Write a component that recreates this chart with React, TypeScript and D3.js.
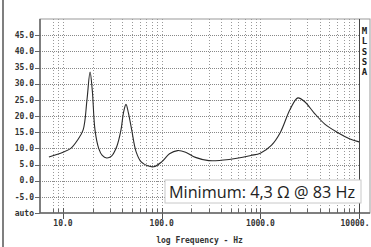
import React from "react";
import * as d3 from "d3";

const freqs = [7.2, 10, 12, 14, 16, 17.5, 18.8, 19.8, 21.1, 23, 25, 27.7, 31, 35, 38.7, 41, 43.5, 46, 49.7, 55, 62, 72, 83, 100, 120, 145, 175, 220, 300, 400, 600, 800, 1000, 1300, 1600, 2000, 2400, 2800, 3500, 4500, 6000, 8000, 10000];
const impedance = [7.3, 8.8, 10, 12.5, 15.7, 25, 33.6, 28, 15.7, 10, 7.8, 7.0, 7.6, 10.5, 15.7, 21, 23.6, 21, 15.7, 9, 5.8, 4.6, 4.3, 5.8, 8.3, 9.3, 8.8, 7.2, 6.2, 6.3, 7.0, 7.8, 8.5, 11, 15, 22, 25.6, 24.5, 21, 17.5, 15, 13, 12];
const yTicks = [45, 40, 35, 30, 25, 20, 15, 10, 5, 0, -5, -10];
const yTickLabels = ["45.0", "40.0", "35.0", "30.0", "25.0", "20.0", "15.0", "10.0", "5.0", "0.0", "-5.0", "auto"];
const xMajor = [10, 100, 1000, 10000];
const xMajorLabels = ["10.0", "100.0", "1000.0", "10000."];
const sideLetters = ["M", "L", "S", "S", "A"];
const annotation = "Minimum: 4,3 \u03A9 @ 83 Hz";
const xTitle = "log Frequency - Hz";

export default function App() {
  const W = 371, H = 247;
  const left = 40, right = 359, top = 19, bottom = 213;
  const decade = (right - 63) / 3;
  const fMin = Math.pow(10, 1 - (63 - left) / decade);
  const x = d3.scaleLog().domain([fMin, 10000]).range([left, right]);
  const y = d3.scaleLinear().domain([-10, 50]).range([bottom, top]);

  const minor: number[] = [];
  for (let e = 0; e <= 3; e++) {
    for (let m = 1; m <= 9; m++) {
      const f = m * Math.pow(10, e);
      if (f >= 8 && f <= 10000) minor.push(f);
    }
  }
  minor.push(10000);

  const line = d3
    .line<number>()
    .x((_, i) => x(freqs[i]))
    .y((d) => y(d))
    .curve(d3.curveCatmullRom.alpha(0.5));

  const mono = "'DejaVu Sans Mono', monospace";

  return (
    <svg width={W} height={H} style={{ position: "absolute", left: 0, top: 0, background: "#fff" }}>
      <rect x={0} y={0} width={W} height={H} fill="#fff" />
      <line x1={3} x2={3} y1={0} y2={H} stroke="#555" strokeWidth={1.5} />
      <rect x={left} y={top} width={370 - left} height={bottom - top} fill="none" stroke="#999" strokeWidth={1} />
      {minor.map((f, i) => (
        <line key={"vg" + i} x1={Math.round(x(f)) + 0.5} x2={Math.round(x(f)) + 0.5} y1={top} y2={bottom} stroke="#999" strokeWidth={1} strokeDasharray="1,2" />
      ))}
      {yTicks.filter((t) => t > -10).map((t, i) => (
        <line key={"hg" + i} x1={left} x2={right} y1={Math.round(y(t)) + 0.5} y2={Math.round(y(t)) + 0.5} stroke="#888" strokeWidth={1} strokeDasharray="1,1" />
      ))}
      {minor.map((f, i) => (
        <line key={"mt" + i} x1={Math.round(x(f)) + 0.5} x2={Math.round(x(f)) + 0.5} y1={bottom - 4} y2={bottom} stroke="#666" strokeWidth={1} />
      ))}
      {xMajor.map((f, i) => (
        <line key={"Mt" + i} x1={Math.round(x(f)) + 0.5} x2={Math.round(x(f)) + 0.5} y1={bottom - 5} y2={bottom + 6} stroke="#555" strokeWidth={1} />
      ))}
      {yTicks.map((t, i) => (
        <line key={"yt" + i} x1={left - 5} x2={left} y1={Math.round(y(t)) + 0.5} y2={Math.round(y(t)) + 0.5} stroke="#666" strokeWidth={1} />
      ))}
      <line x1={left} x2={left} y1={top} y2={bottom} stroke="#666" strokeWidth={1.5} />
      <line x1={left} x2={370} y1={bottom} y2={bottom} stroke="#666" strokeWidth={1.5} />
      <line x1={right + 0.5} x2={right + 0.5} y1={top} y2={bottom} stroke="#444" strokeWidth={1} />
      <path d={line(impedance) || ""} fill="none" stroke="#2a2a2a" strokeWidth={1.1} />
      <rect x={165} y={180} width={196} height={23} fill="#fff" stroke="#c8c8c8" strokeWidth={1} />
      <text x={169} y={198} fontFamily="'Open Sans', sans-serif" fontSize={16} fill="#222" textLength={186} lengthAdjust="spacingAndGlyphs">{annotation}</text>
      {yTicks.map((t, i) => (
        <text key={"yl" + i} x={34} y={y(t)} dy="0.35em" textAnchor="end" fontFamily={mono} fontWeight="bold" fontSize={8} fill="#333">{yTickLabels[i]}</text>
      ))}
      {xMajor.map((f, i) => (
        <text key={"xl" + i} x={x(f) + (i === 3 ? -4 : 0)} y={226} textAnchor="middle" fontFamily={mono} fontWeight="bold" fontSize={8} fill="#333">{xMajorLabels[i]}</text>
      ))}
      <text x={(left + right) / 2} y={243} textAnchor="middle" fontFamily={mono} fontWeight="bold" fontSize={8} fill="#333">{xTitle}</text>
      {sideLetters.map((s, i) => (
        <text key={"sl" + i} x={364.5} y={31 + i * 10.3} dy="0.35em" textAnchor="middle" fontFamily={mono} fontWeight="bold" fontSize={9} fill="#222">{s}</text>
      ))}
    </svg>
  );
}
